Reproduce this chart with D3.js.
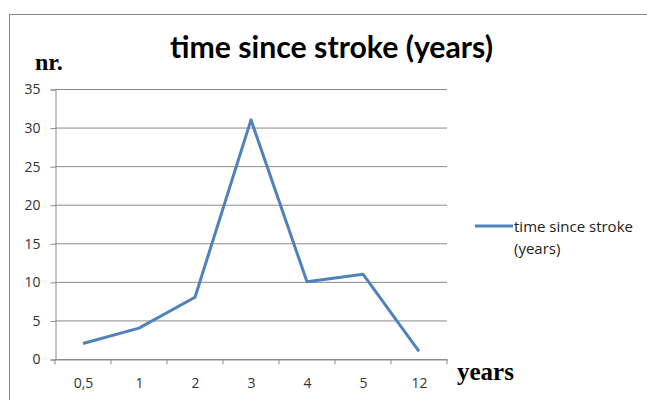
<!DOCTYPE html>
<html><head><meta charset="utf-8">
<script src="https://cdn.jsdelivr.net/npm/d3@7"></script>
<style>body{margin:0;background:#fff}svg{display:block}</style>
</head><body>
<script>
const categories = ["0,5","1","2","3","4","5","12"];
const values = [2,4,8,31,10,11,1];
const yTicks = [0,5,10,15,20,25,30,35];
const seriesName = "time since stroke (years)";

(function(){
const W=647,H=400;
const svg=d3.select("body").append("svg").attr("width",W).attr("height",H);
svg.append("rect").attr("x",9.5).attr("y",14.5).attr("width",700).attr("height",500)
  .attr("fill","none").attr("stroke","#8c8c8c").attr("stroke-width",1);

const pl=55,pr=447,pt=89,pb=359;
const x=d3.scaleBand().domain(categories).range([pl,pr]);
const y=d3.scaleLinear().domain([0,35]).range([pb,pt]);

svg.append("g").selectAll("line").data(yTicks).join("line")
  .attr("x1",pl).attr("x2",pr).attr("y1",d=>y(d)+0.5).attr("y2",d=>y(d)+0.5)
  .attr("stroke","#8a8a8a").attr("stroke-width",1);

const yAxis=svg.append("g").attr("transform",`translate(${pl+0.5},0.5)`)
  .call(d3.axisLeft(y).tickValues(yTicks).tickSize(5).tickPadding(10));
const xAxis=svg.append("g").attr("transform",`translate(0.5,${pb+0.5})`)
  .call(d3.axisBottom(x).tickSize(0).tickPadding(19));
xAxis.selectAll(".bt").data(categories.map((c,i)=>pl+x.step()*(i+1)).concat([pl])).join("line")
  .attr("class","bt").attr("x1",d=>d-0.5).attr("x2",d=>d-0.5).attr("y1",0).attr("y2",5)
  .attr("stroke","#8a8a8a");
[yAxis,xAxis].forEach(a=>{
  a.selectAll(".domain").attr("stroke","#8a8a8a");
  a.selectAll(".tick line").attr("stroke","#8a8a8a");
  a.selectAll("text").attr("font-family","'Open Sans',sans-serif").attr("font-size",14).attr("fill","#333");
});

const line=d3.line().x((d,i)=>x(categories[i])+x.bandwidth()/2).y(d=>y(d));
svg.append("path").datum(values).attr("d",line).attr("fill","none")
  .attr("stroke","#4f81bd").attr("stroke-width",3).attr("stroke-linejoin","round");

svg.append("text").attr("x",331.5).attr("y",58).attr("text-anchor","middle")
  .attr("font-family","Lato,sans-serif").attr("font-weight","bold").attr("font-size",29.5)
  .attr("textLength",323).attr("lengthAdjust","spacingAndGlyphs")
  .text(seriesName);
svg.append("text").attr("x",35).attr("y",70)
  .attr("font-family","'Liberation Serif',serif").attr("font-weight","bold").attr("font-size",24).text("nr.");
svg.append("text").attr("x",457).attr("y",380)
  .attr("font-family","'Liberation Serif',serif").attr("font-weight","bold").attr("font-size",25).text("years");

svg.append("line").attr("x1",475).attr("x2",513).attr("y1",226).attr("y2",226)
  .attr("stroke","#4f81bd").attr("stroke-width",3);
const lt=svg.append("text").attr("font-family","'Open Sans',sans-serif").attr("font-size",15).attr("fill","#222");
lt.append("tspan").attr("x",514).attr("y",232).text("time since stroke");
lt.append("tspan").attr("x",514).attr("y",254).text("(years)");
})();
</script>
</body></html>
